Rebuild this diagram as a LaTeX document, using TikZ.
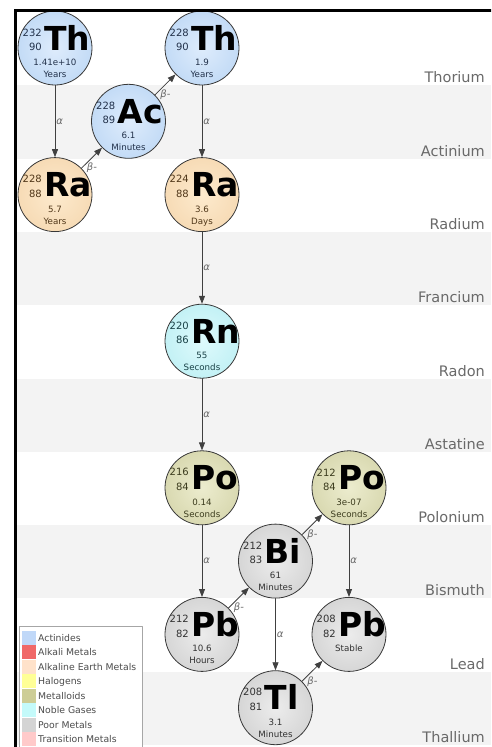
\documentclass[tikz,border=0pt]{standalone}
\usepackage{fontspec}
\setmainfont{DejaVu Sans}
\usetikzlibrary{arrows.meta}

% 色（系列ごと：中心・外周・文字）
\definecolor{actin}{RGB}{222,236,252}
\definecolor{actout}{RGB}{168,202,240}
\definecolor{acttxt}{RGB}{35,50,75}
\definecolor{alkin}{RGB}{253,234,205}
\definecolor{alkout}{RGB}{240,204,158}
\definecolor{alktxt}{RGB}{80,55,25}
\definecolor{nobin}{RGB}{222,250,252}
\definecolor{nobout}{RGB}{168,232,238}
\definecolor{nobtxt}{RGB}{25,65,70}
\definecolor{metin}{RGB}{236,236,206}
\definecolor{metout}{RGB}{198,198,148}
\definecolor{mettxt}{RGB}{60,60,30}
\definecolor{poorin}{RGB}{236,236,236}
\definecolor{poorout}{RGB}{192,192,192}
\definecolor{poortxt}{RGB}{50,50,50}
\definecolor{bandgray}{RGB}{243,243,243}
\definecolor{labgray}{RGB}{105,105,105}
% 凡例の色
\definecolor{legact}{RGB}{192,216,248}
\definecolor{legalk}{RGB}{240,104,104}
\definecolor{legae}{RGB}{255,226,202}
\definecolor{leghal}{RGB}{255,255,150}
\definecolor{legmet}{RGB}{205,205,150}
\definecolor{legnob}{RGB}{196,250,250}
\definecolor{legpoor}{RGB}{212,212,212}
\definecolor{legtra}{RGB}{255,202,202}

\colorlet{isoin}{poorin}\colorlet{isoout}{poorout}\colorlet{isotxt}{poortxt}
\pgfdeclareradialshading[isoin,isoout]{isoshade}{\pgfpointorigin}{color(0bp)=(isoin); color(50bp)=(isoout)}

\begin{document}
\begin{tikzpicture}[x=1pt,y=-1pt,
  line cap=round,
  line join=round,
  iso/.style={circle,minimum size=74pt,inner sep=0pt,draw=black!78,line width=0.8pt,shading=isoshade},
  sym/.style={anchor=base west,inner sep=0pt,font=\fontsize{33}{33}\selectfont\bfseries},
  nuc/.style={anchor=east,inner sep=0pt,text=isotxt,font=\fontsize{10}{10}\selectfont},
  half/.style={anchor=base,inner sep=0pt,text=isotxt,font=\fontsize{8.7}{8.7}\selectfont},
  decay/.style={draw=black!75,line width=0.8pt,-{Triangle[length=8pt,width=6pt]}},
  alab/.style={midway,anchor=west,inner sep=1pt,text=labgray,font=\fontsize{10}{10}\selectfont\itshape},
  blab/.style={pos=0,anchor=west,xshift=5pt,inner sep=0pt,text=labgray,font=\fontsize{10}{10}\selectfont\itshape},
  rowlab/.style={anchor=base east,inner sep=0pt,text=labgray,font=\fontsize{14.5}{14.5}\selectfont},
  legtext/.style={anchor=base west,inner sep=0pt,text=black!70,font=\fontsize{9.3}{9.3}\selectfont}]

  % 描画範囲
  \useasboundingbox (0,0) rectangle (491,747);
  \clip (0,0) rectangle (491,747);

  % 行の帯
  \foreach \r in {1,3,5,7,9}
    \fill[bandgray] (17,{12+73.3*\r}) rectangle (491,{85.3+73.3*\r});

  % 元素名（右端）
  \foreach \nm [count=\i from 0] in {Thorium,Actinium,Radium,Francium,Radon,
      Astatine,Polonium,Bismuth,Lead,Thallium}
    \node[rowlab] (row-\i) at (485,{82.8+73.3*\i}) {\nm};

  % 核種（名前/x/y/系列/質量数/原子番号/記号/半減期/単位）
  \foreach \nm/\cx/\cy/\cat/\mass/\zz/\el/\hl/\unit in {
      th232/55/48/act/232/90/Th/1.41e+10/Years,
      ac228/128.5/121.3/act/228/89/Ac/6.1/Minutes,
      th228/202/48/act/228/90/Th/1.9/Years,
      ra228/55/194.6/alk/228/88/Ra/5.7/Years,
      ra224/202/194.6/alk/224/88/Ra/3.6/Days,
      rn220/202/341.2/nob/220/86/Rn/55/Seconds,
      po216/202/487.8/met/216/84/Po/0.14/Seconds,
      po212/349/487.8/met/212/84/Po/3e-07/Seconds,
      bi212/275.5/561.1/poor/212/83/Bi/61/Minutes,
      pb212/202/634.4/poor/212/82/Pb/10.6/Hours,
      pb208/349/634.4/poor/208/82/Pb/Stable/{},
      tl208/275.5/707.7/poor/208/81/Tl/3.1/Minutes} {
    \colorlet{isoin}{\cat in}\colorlet{isoout}{\cat out}\colorlet{isotxt}{\cat txt}
    \node[iso] (\nm) at (\cx,\cy) {};
    \node[sym] (\nm-el) at ({\cx-11},{\cy+2}) {\el};
    \node[nuc] (\nm-a) at ({\cx-13},{\cy-15.5}) {\mass};
    \node[nuc] (\nm-z) at ({\cx-13},{\cy-1}) {\zz};
    \node[half] (\nm-t) at (\cx,{\cy+17.5}) {\hl};
    \node[half] (\nm-u) at (\cx,{\cy+29.5}) {\unit};
  }

  % 崩壊（α：縦，β−：斜め）
  \draw[decay] (th232) -- (ra228) node[alab] (al1) {α};
  \draw[decay] (ra228) -- (ac228) node[blab] (bl1) {β-};
  \draw[decay] (ac228) -- (th228) node[blab] (bl2) {β-};
  \draw[decay] (th228) -- (ra224) node[alab] (al2) {α};
  \draw[decay] (ra224) -- (rn220) node[alab] (al3) {α};
  \draw[decay] (rn220) -- (po216) node[alab] (al4) {α};
  \draw[decay] (po216) -- (pb212) node[alab] (al5) {α};
  \draw[decay] (pb212) -- (bi212) node[blab] (bl3) {β-};
  \draw[decay] (bi212) -- (po212) node[blab] (bl4) {β-};
  \draw[decay] (bi212) -- (tl208) node[alab] (al6) {α};
  \draw[decay] (po212) -- (pb208) node[alab] (al7) {α};
  \draw[decay] (tl208) -- (pb208) node[blab] (bl5) {β-};

  % 凡例
  \draw[draw=black!35,fill=white,line width=0.8pt] (19,626) rectangle (142,770);
  \foreach \nm/\col [count=\i from 0] in {Actinides/legact,Alkali Metals/legalk,
      Alkaline Earth Metals/legae,Halogens/leghal,Metalloids/legmet,
      Noble Gases/legnob,Poor Metals/legpoor,Transition Metals/legtra} {
    \fill[\col] (22,{630.5+14.5*\i}) rectangle (36,{644.5+14.5*\i});
    \node[legtext] (leg-\i) at (38,{641+14.5*\i}) {\nm};
  }

  % 枠
  \draw[line width=3pt,line cap=butt,line join=miter] (15.5,760) -- (15.5,10.5) -- (500,10.5);

\end{tikzpicture}
\end{document}
